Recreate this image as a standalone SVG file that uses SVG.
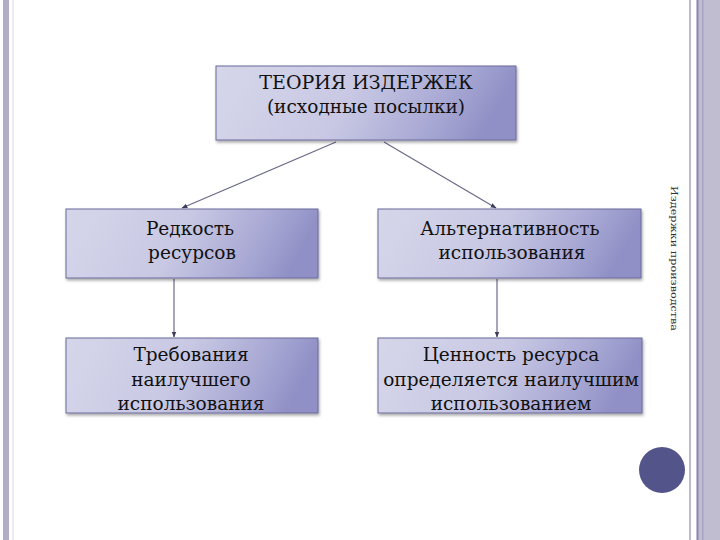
<svg xmlns="http://www.w3.org/2000/svg" width="720" height="540" viewBox="0 0 720 540">
<defs>
<linearGradient id="g" x1="0" y1="0" x2="1" y2="0.15">
<stop offset="0" stop-color="#d6d6ea"/>
<stop offset="0.5" stop-color="#c8c8e4"/>
<stop offset="0.85" stop-color="#a4a4d2"/>
<stop offset="1" stop-color="#9090c6"/>
</linearGradient>
<filter id="sh" x="-5%" y="-5%" width="110%" height="120%">
<feDropShadow dx="1" dy="2" stdDeviation="1.5" flood-color="#000" flood-opacity="0.35"/>
</filter>
<marker id="ah" viewBox="0 0 10 10" refX="9" refY="5" markerWidth="5" markerHeight="5" orient="auto">
<path d="M0,1 L10,5 L0,9 z" fill="#3c3c5c"/>
</marker>
<style>
.box{fill:url(#g);stroke:#6a6a9a;stroke-width:1;filter:url(#sh)}
.t{font-family:'DejaVu Serif','Liberation Serif',serif;font-size:18.5px;fill:#111;text-anchor:middle}
.c{stroke:#6a6a88;stroke-width:1.2;fill:none;marker-end:url(#ah)}
</style>
</defs>
<rect width="720" height="540" fill="#fff"/>
<g id="frame">
<rect x="3" y="0" width="6" height="540" fill="#b2aec8"/>
<rect x="12" y="0" width="2" height="540" fill="#ecebf4"/>
<rect x="689" y="0" width="2" height="540" fill="#bdbacb"/>
<rect x="696" y="0" width="24" height="540" fill="#c0bdd0"/>
<rect x="697" y="0" width="1.5" height="540" fill="#8a86b0"/>
<rect x="702" y="0" width="1.5" height="540" fill="#a8a4c0"/>
<circle cx="662" cy="470" r="23" fill="#53548a"/>
<text x="0" y="0" transform="translate(671,186) rotate(90)" font-family="'DejaVu Serif', 'Liberation Serif', serif" font-size="10" textLength="145" lengthAdjust="spacingAndGlyphs" fill="#333">Издержки производства</text>
</g>
<g id="connectors">
<line class="c" x1="336" y1="142" x2="182" y2="208"/>
<line class="c" x1="384" y1="142" x2="496" y2="208"/>
<line class="c" x1="174" y1="279" x2="174" y2="337"/>
<line class="c" x1="497" y1="279" x2="497" y2="337"/>
</g>
<g id="top">
<rect class="box" x="216" y="66" width="300" height="74"/>
<text class="t" x="366" y="89" style="font-size:19px">ТЕОРИЯ ИЗДЕРЖЕК</text>
<text class="t" x="366" y="113">(исходные посылки)</text>
</g>
<g id="scarcity">
<rect class="box" x="66" y="209" width="252" height="69"/>
<text class="t" x="190" y="235">Редкость</text>
<text class="t" x="192" y="259">ресурсов</text>
</g>
<g id="alternative">
<rect class="box" x="378" y="209" width="263" height="69"/>
<text class="t" x="510" y="235">Альтернативность</text>
<text class="t" x="512" y="259">использования</text>
</g>
<g id="requirements">
<rect class="box" x="66" y="338" width="252" height="75"/>
<text class="t" x="191" y="361">Требования</text>
<text class="t" x="191" y="386">наилучшего</text>
<text class="t" x="191" y="410">использования</text>
</g>
<g id="value">
<rect class="box" x="378" y="338" width="264" height="75"/>
<text class="t" x="511" y="361">Ценность ресурса</text>
<text class="t" x="511" y="386">определяется наилучшим</text>
<text class="t" x="511" y="410">использованием</text>
</g>
</svg>
